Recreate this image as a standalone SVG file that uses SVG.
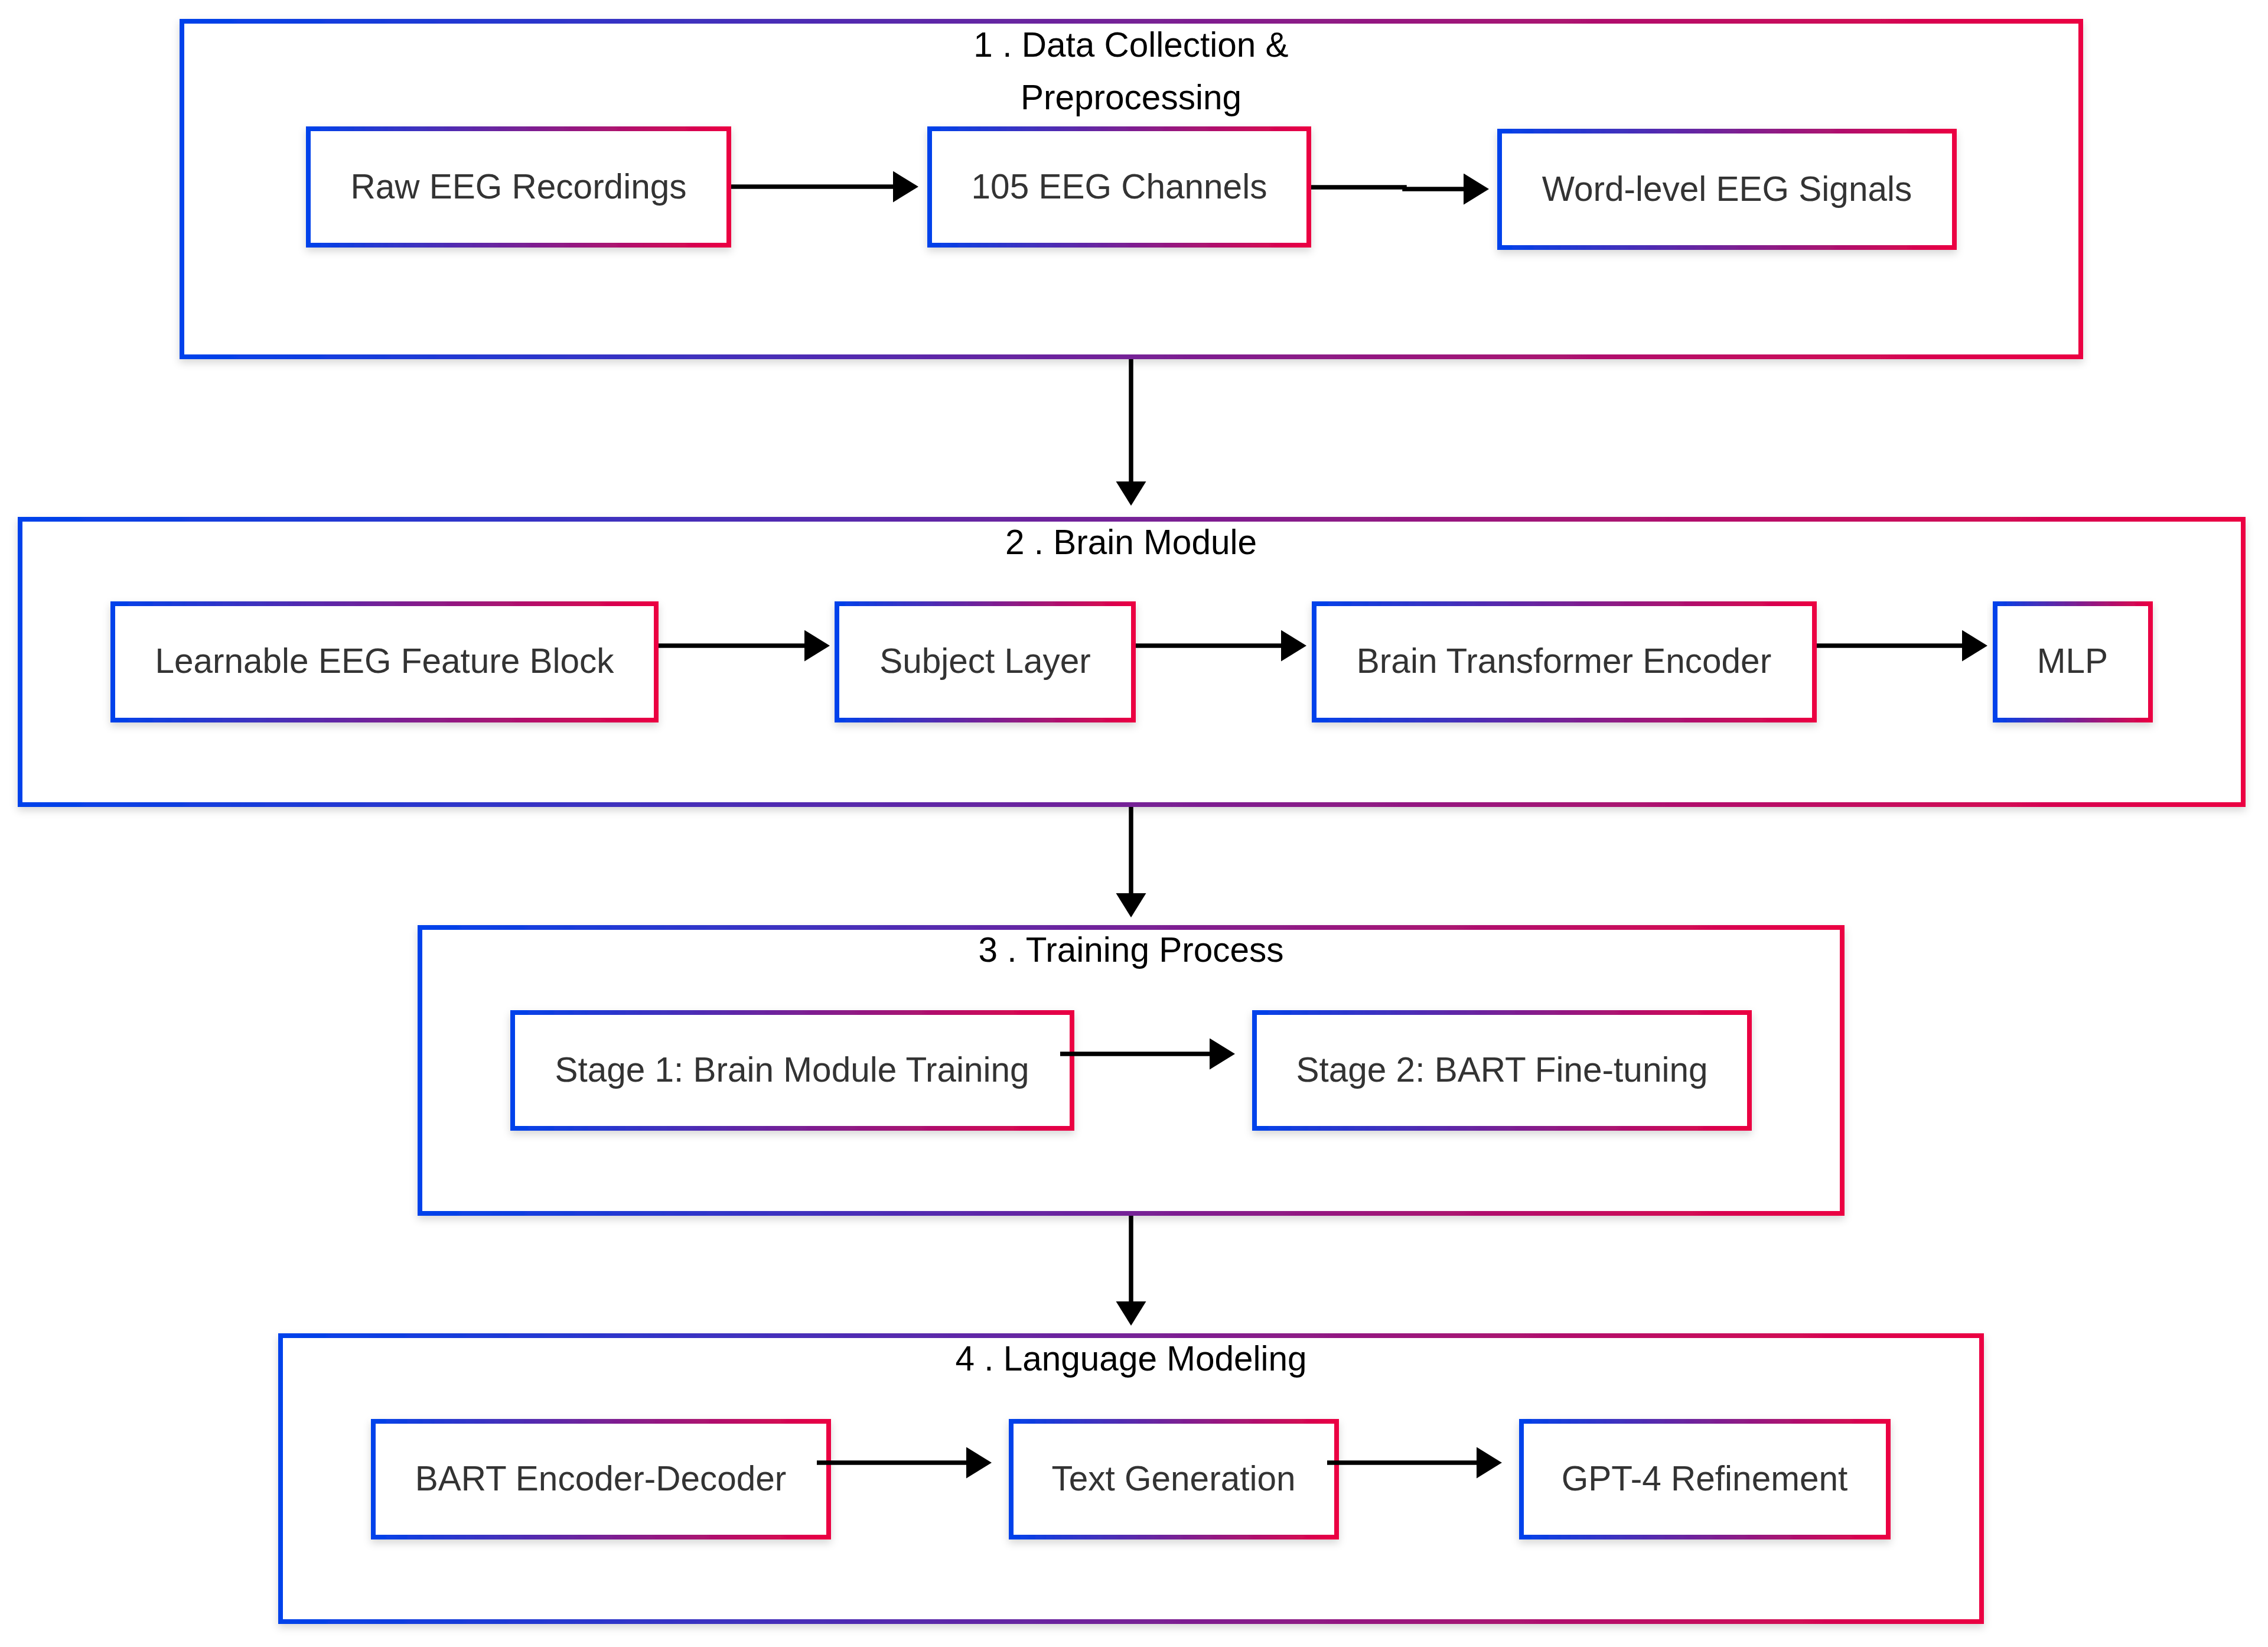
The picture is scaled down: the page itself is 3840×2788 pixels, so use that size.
<svg xmlns="http://www.w3.org/2000/svg" width="3840" height="2788" viewBox="0 0 3840 2788">
<defs>
<linearGradient id="grad" x1="0" y1="0" x2="1" y2="0">
<stop offset="0" stop-color="#0042eb"/>
<stop offset="1" stop-color="#eb0042"/>
</linearGradient>
<filter id="shadow" x="-5%" y="-10%" width="110%" height="130%">
<feDropShadow dx="0" dy="6" stdDeviation="7" flood-color="#000" flood-opacity="0.16"/>
</filter>
<marker id="arrow" markerUnits="userSpaceOnUse" markerWidth="44" markerHeight="54" refX="0" refY="26.5" orient="auto">
<path d="M0,0 L43,26.5 L0,53 Z" fill="#000"/>
</marker>
<marker id="arrowv" markerUnits="userSpaceOnUse" markerWidth="42" markerHeight="52" refX="0" refY="25.5" orient="auto">
<path d="M0,0 L41,25.5 L0,51 Z" fill="#000"/>
</marker>
</defs>
<style>
.cluster{fill:#fff;stroke:url(#grad);stroke-width:8;filter:url(#shadow)}
.node rect{fill:#fff;stroke:url(#grad);stroke-width:8;filter:url(#shadow)}
.node text{font-family:"Liberation Sans",Arial,sans-serif;font-size:58.5px;fill:#333;text-anchor:middle}
.title{font-family:"Liberation Sans",Arial,sans-serif;font-size:58.5px;fill:#000;text-anchor:middle}
.edge{fill:none;stroke:#000;stroke-width:7.5}
</style>
<rect width="3840" height="2788" fill="#fff"/>

<g id="cluster1">
<rect class="cluster" x="308" y="36" width="3215" height="568"/>
<text class="title" x="1915" y="96">1 . Data Collection &amp;</text>
<text class="title" x="1915" y="185">Preprocessing</text>
</g>
<g id="cluster2">
<rect class="cluster" x="34" y="879" width="3764" height="483"/>
<text class="title" x="1915" y="938">2 . Brain Module</text>
</g>
<g id="cluster3">
<rect class="cluster" x="711" y="1570" width="2408" height="484"/>
<text class="title" x="1915" y="1628">3 . Training Process</text>
</g>
<g id="cluster4">
<rect class="cluster" x="475" y="2261" width="2880" height="484"/>
<text class="title" x="1915" y="2320">4 . Language Modeling</text>
</g>

<g id="raw" class="node"><rect x="522" y="218" width="712" height="197"/><text x="878" y="336">Raw EEG Recordings</text></g>
<g id="channels" class="node"><rect x="1574" y="218" width="642" height="197"/><text x="1895" y="336">105 EEG Channels</text></g>
<g id="wordlevel" class="node"><rect x="2539" y="222" width="770" height="197"/><text x="2924" y="340">Word-level EEG Signals</text></g>

<g id="learnable" class="node"><rect x="191" y="1022" width="920" height="197"/><text x="651" y="1139">Learnable EEG Feature Block</text></g>
<g id="subject" class="node"><rect x="1417" y="1022" width="502" height="197"/><text x="1668" y="1139">Subject Layer</text></g>
<g id="bte" class="node"><rect x="2225" y="1022" width="847" height="197"/><text x="2648" y="1139">Brain Transformer Encoder</text></g>
<g id="mlp" class="node"><rect x="3378" y="1022" width="263" height="197"/><text x="3509" y="1139">MLP</text></g>

<g id="stage1" class="node"><rect x="868" y="1714" width="947" height="196"/><text x="1341" y="1831">Stage 1: Brain Module Training</text></g>
<g id="stage2" class="node"><rect x="2124" y="1714" width="838" height="196"/><text x="2543" y="1831">Stage 2: BART Fine-tuning</text></g>

<g id="bart" class="node"><rect x="632" y="2406" width="771" height="196"/><text x="1017" y="2523">BART Encoder-Decoder</text></g>
<g id="textgen" class="node"><rect x="1712" y="2406" width="551" height="196"/><text x="1987" y="2523">Text Generation</text></g>
<g id="gpt4" class="node"><rect x="2576" y="2406" width="621" height="196"/><text x="2886" y="2523">GPT-4 Refinement</text></g>

<g id="edges">
<path class="edge" d="M1238,316 H1512" marker-end="url(#arrow)"/>
<path class="edge" d="M2220,317 H2378 V320 H2478" marker-end="url(#arrow)"/>
<path class="edge" d="M1915,608 V815" marker-end="url(#arrowv)"/>
<path class="edge" d="M1115,1093 H1362" marker-end="url(#arrow)"/>
<path class="edge" d="M1923,1093 H2169" marker-end="url(#arrow)"/>
<path class="edge" d="M3076,1093 H3322" marker-end="url(#arrow)"/>
<path class="edge" d="M1915,1366 V1512" marker-end="url(#arrowv)"/>
<path class="edge" d="M1795,1784 H2048" marker-end="url(#arrow)"/>
<path class="edge" d="M1915,2058 V2203" marker-end="url(#arrowv)"/>
<path class="edge" d="M1383,2476 H1636" marker-end="url(#arrow)"/>
<path class="edge" d="M2247,2476 H2500" marker-end="url(#arrow)"/>
</g>
</svg>
